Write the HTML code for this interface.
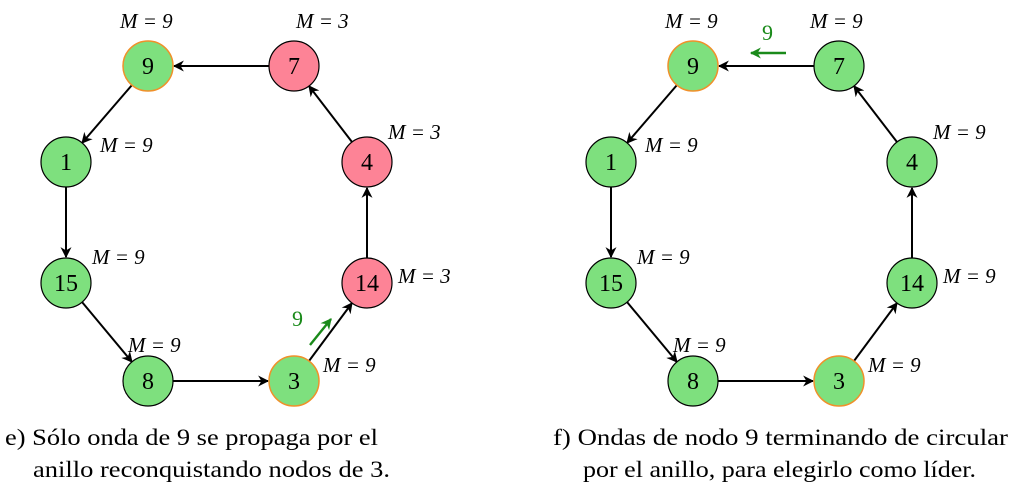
<!DOCTYPE html>
<html><head><meta charset="utf-8"><style>
html,body{margin:0;padding:0;background:#fff;}
svg{display:block;}
.n{font-family:"Liberation Serif",serif;font-size:24px;text-anchor:middle;}
.m{font-family:"Liberation Serif",serif;font-size:21px;font-style:italic;}
.c{font-family:"Liberation Serif",serif;font-size:23px;}
</style></head><body>
<svg width="1029" height="490" viewBox="0 0 1029 490">
<defs>
<marker id="a" viewBox="0 0 10 10" refX="9" refY="5" markerWidth="12" markerHeight="11" markerUnits="userSpaceOnUse" orient="auto"><path d="M0,0 L10,5 L0,10 L3,5 z" fill="#000"/></marker>
<marker id="g" viewBox="0 0 10 10" refX="9" refY="5" markerWidth="12" markerHeight="11" markerUnits="userSpaceOnUse" orient="auto"><path d="M0,0 L10,5 L0,10 L3,5 z" fill="#1a8a1a"/></marker>
<g id="edges" stroke="#000" stroke-width="2" marker-end="url(#a)">
<line x1="269" y1="66" x2="174" y2="66"/>
<line x1="352" y1="142" x2="309" y2="86"/>
<line x1="367" y1="258" x2="367" y2="188"/>
<line x1="309" y1="361" x2="352" y2="303"/>
<line x1="173" y1="381" x2="268" y2="381"/>
<line x1="82" y1="302" x2="132" y2="362"/>
<line x1="66" y1="187" x2="66" y2="257"/>
<line x1="132" y1="85" x2="82" y2="143"/>
</g>
</defs>
<use href="#edges"/>
<use href="#edges" x="545"/>
<g stroke="#000" stroke-width="1.2">
<circle cx="148" cy="66" r="25" fill="#7ee07e" stroke="#f0902a" stroke-width="1.5"/>
<circle cx="294" cy="66" r="25" fill="#fd8396"/>
<circle cx="367" cy="162" r="25" fill="#fd8396"/>
<circle cx="367" cy="283" r="25" fill="#fd8396"/>
<circle cx="294" cy="381" r="25" fill="#7ee07e" stroke="#f0902a" stroke-width="1.5"/>
<circle cx="148" cy="381" r="25" fill="#7ee07e"/>
<circle cx="66" cy="283" r="25" fill="#7ee07e"/>
<circle cx="66" cy="162" r="25" fill="#7ee07e"/>
<circle cx="693" cy="66" r="25" fill="#7ee07e" stroke="#f0902a" stroke-width="1.5"/>
<circle cx="839" cy="66" r="25" fill="#7ee07e"/>
<circle cx="912" cy="162" r="25" fill="#7ee07e"/>
<circle cx="912" cy="283" r="25" fill="#7ee07e"/>
<circle cx="839" cy="381" r="25" fill="#7ee07e" stroke="#f0902a" stroke-width="1.5"/>
<circle cx="693" cy="381" r="25" fill="#7ee07e"/>
<circle cx="611" cy="283" r="25" fill="#7ee07e"/>
<circle cx="611" cy="162" r="25" fill="#7ee07e"/>
</g>
<g class="n">
<text x="148" y="74">9</text><text x="294" y="74">7</text><text x="367" y="170">4</text><text x="367" y="291">14</text>
<text x="294" y="389">3</text><text x="148" y="389">8</text><text x="66" y="291">15</text><text x="66" y="170">1</text>
<text x="693" y="74">9</text><text x="839" y="74">7</text><text x="912" y="170">4</text><text x="912" y="291">14</text>
<text x="839" y="389">3</text><text x="693" y="389">8</text><text x="611" y="291">15</text><text x="611" y="170">1</text>
</g>
<g class="m">
<text x="120" y="28">M = 9</text><text x="296" y="28">M = 3</text><text x="388" y="139">M = 3</text><text x="398" y="283">M = 3</text>
<text x="323" y="372">M = 9</text><text x="128" y="352">M = 9</text><text x="92" y="264">M = 9</text><text x="100" y="152">M = 9</text>
<text x="665" y="28">M = 9</text><text x="810" y="28">M = 9</text><text x="933" y="139">M = 9</text><text x="943" y="283">M = 9</text>
<text x="868" y="372">M = 9</text><text x="673" y="352">M = 9</text><text x="637" y="264">M = 9</text><text x="645" y="152">M = 9</text>
</g>
<line x1="310" y1="345" x2="331" y2="319" stroke="#1a8a1a" stroke-width="2.4" marker-end="url(#g)"/>
<text x="292" y="326" fill="#1a8a1a" font-family="Liberation Serif,serif" font-size="22">9</text>
<line x1="786" y1="53" x2="751" y2="53" stroke="#1a8a1a" stroke-width="2.4" marker-end="url(#g)"/>
<text x="762" y="40" fill="#1a8a1a" font-family="Liberation Serif,serif" font-size="22">9</text>
<g class="c">
<text x="5" y="445" textLength="373" lengthAdjust="spacingAndGlyphs">e) Sólo onda de 9 se propaga por el</text>
<text x="33" y="477" textLength="357" lengthAdjust="spacingAndGlyphs">anillo reconquistando nodos de 3.</text>
<text x="553" y="445" textLength="455" lengthAdjust="spacingAndGlyphs">f) Ondas de nodo 9 terminando de circular</text>
<text x="583" y="477" textLength="393" lengthAdjust="spacingAndGlyphs">por el anillo, para elegirlo como líder.</text>
</g>
</svg>
</body></html>
